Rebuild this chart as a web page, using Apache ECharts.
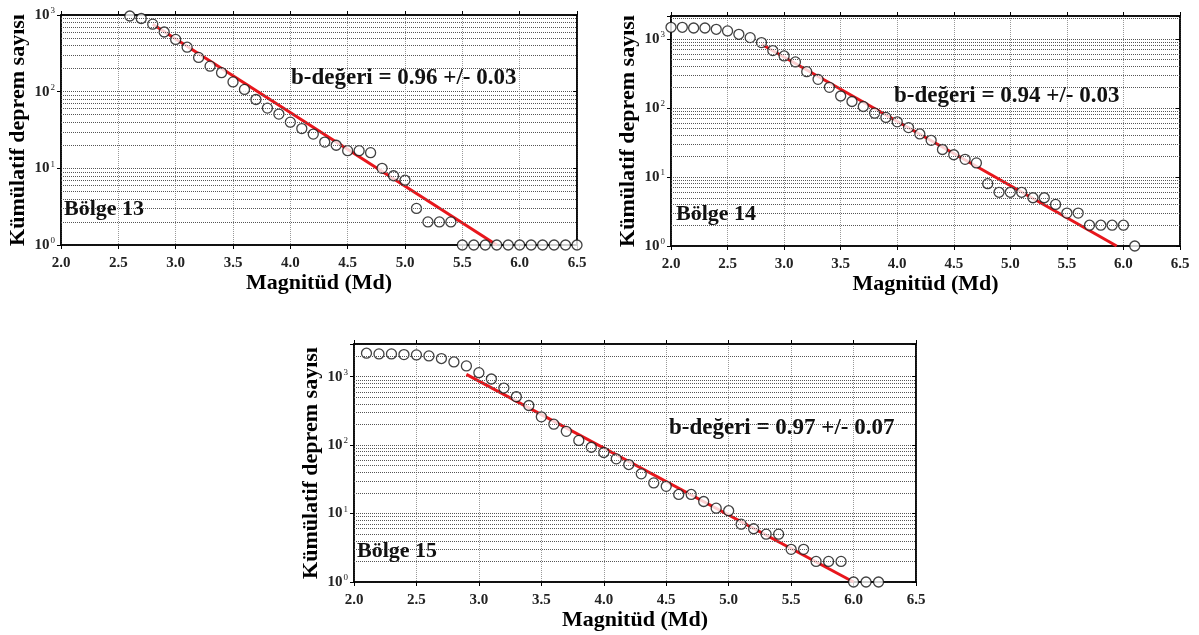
<!DOCTYPE html>
<html lang="tr" style="height: 100%">
  <head>
    <meta charset="utf-8">
    <title>Kümülatif deprem sayısı</title>
  </head>
  <body style="height: 100%; margin: 0; background: #fff">
    <div id="container" style="width: 1199px; height: 635px;"></div>
    <script type="text/javascript" src="https://cdn.jsdelivr.net/npm/echarts@6/dist/echarts.min.js"></script>
    <script type="text/javascript">
      // Bölge 13
      var mag13 = [2.6, 2.7, 2.8, 2.9, 3.0, 3.1, 3.2, 3.3, 3.4, 3.5, 3.6, 3.7, 3.8, 3.9, 4.0, 4.1, 4.2, 4.3, 4.4, 4.5,
                   4.6, 4.7, 4.8, 4.9, 5.0, 5.1, 5.2, 5.3, 5.4, 5.5, 5.6, 5.7, 5.8, 5.9, 6.0, 6.1, 6.2, 6.3, 6.4, 6.5];
      var count13 = [970, 900, 760, 600, 480, 380, 280, 215, 177, 134, 107, 79, 61, 51, 40, 33, 28, 22, 20, 17,
                     17, 16, 10, 8, 7, 3, 2, 2, 2, 1, 1, 1, 1, 1, 1, 1, 1, 1, 1, 1];
      var fitMag13 = [2.8, 5.8];
      var fitCount13 = [759, 1];

      // Bölge 14
      var mag14 = [2.0, 2.1, 2.2, 2.3, 2.4, 2.5, 2.6, 2.7, 2.8, 2.9, 3.0, 3.1, 3.2, 3.3, 3.4, 3.5, 3.6, 3.7, 3.8, 3.9,
                   4.0, 4.1, 4.2, 4.3, 4.4, 4.5, 4.6, 4.7, 4.8, 4.9, 5.0, 5.1, 5.2, 5.3, 5.4, 5.5, 5.6, 5.7, 5.8, 5.9, 6.0, 6.1];
      var count14 = [1475, 1475, 1440, 1440, 1380, 1306, 1168, 1045, 885, 678, 567, 464, 336, 260, 199, 149, 124, 105, 84, 73,
                     63, 52, 42, 34, 25, 21, 18, 16, 8, 6, 6, 6, 5, 5, 4, 3, 3, 2, 2, 2, 2, 1];
      var fitMag14 = [2.8, 5.94];
      var fitCount14 = [838, 1];

      // Bölge 15
      var mag15 = [2.1, 2.2, 2.3, 2.4, 2.5, 2.6, 2.7, 2.8, 2.9, 3.0, 3.1, 3.2, 3.3, 3.4, 3.5, 3.6, 3.7, 3.8, 3.9, 4.0,
                   4.1, 4.2, 4.3, 4.4, 4.5, 4.6, 4.7, 4.8, 4.9, 5.0, 5.1, 5.2, 5.3, 5.4, 5.5, 5.6, 5.7, 5.8, 5.9, 6.0, 6.1, 6.2];
      var count15 = [2200, 2150, 2150, 2100, 2080, 2010, 1840, 1640, 1435, 1145, 925, 682, 509, 379, 259, 202, 159, 117, 93, 78,
                     63, 52, 38, 28, 25, 19, 19, 15, 12, 11, 7, 6, 5, 5, 3, 3, 2, 2, 2, 1, 1, 1];
      var fitMag15 = [2.9, 6.0];
      var fitCount15 = [1080, 1];

      var bLabels = ['b-değeri = 0.96 +/- 0.03', 'b-değeri = 0.94 +/- 0.03', 'b-değeri = 0.97 +/- 0.07'];
      var regionLabels = ['Bölge 13', 'Bölge 14', 'Bölge 15'];
      var yMax = [1000, 2150, 3000];

      // horizontal grid lines at 2..9 x 10^k
      var minorValues = [2, 3, 4, 5, 6, 7, 8, 9, 20, 30, 40, 50, 60, 70, 80, 90,
                         200, 300, 400, 500, 600, 700, 800, 900, 2000, 3000];

      var serif = '"Liberation Serif", "DejaVu Serif", serif';

      var grids = [
        {left: 61, top: 15, width: 516, height: 230},
        {left: 671, top: 16, width: 509, height: 230},
        {left: 354, top: 344, width: 562, height: 238}
      ];
      var textPos = [
        {b: [291, 80], r: [64, 210]},
        {b: [894, 98], r: [676, 215]},
        {b: [669, 430], r: [357, 552]}
      ];

      function pairs(xs, ys) {
        return xs.map(function (x, i) { return [x, ys[i]]; });
      }

      function powLabel(v) {
        var e = Math.log(v) / Math.LN10;
        if (Math.abs(e - Math.round(e)) > 1e-6) return '';
        return '{b|10}{s|' + Math.round(e) + '}';
      }

      var option = {
        backgroundColor: '#fff',
        animation: false,
        grid: [],
        xAxis: [],
        yAxis: [],
        series: [],
        graphic: []
      };

      var panels = [
        {mag: mag13, count: count13, fm: fitMag13, fc: fitCount13},
        {mag: mag14, count: count14, fm: fitMag14, fc: fitCount14},
        {mag: mag15, count: count15, fm: fitMag15, fc: fitCount15}
      ];

      panels.forEach(function (p, i) {
        var g = grids[i];
        option.grid.push({left: g.left, top: g.top, width: g.width, height: g.height,
                          show: true, borderColor: '#000', borderWidth: 1.5, backgroundColor: '#fff'});
        // bottom x axis
        option.xAxis.push({
          type: 'value', gridIndex: i, min: 2.0, max: 6.5, interval: 0.5,
          name: 'Magnitüd (Md)', nameLocation: 'middle', nameGap: 27,
          nameTextStyle: {fontFamily: serif, fontWeight: 'bold', fontSize: 22, color: '#000'},
          axisLine: {lineStyle: {color: '#000', width: 1.5}},
          axisTick: {show: true, length: 4, lineStyle: {color: '#000'}},
          axisLabel: {fontFamily: serif, fontWeight: 'bold', fontSize: 15, color: '#222', margin: 11,
                      formatter: function (v) { return v.toFixed(1); }},
          splitLine: {show: true, lineStyle: {color: '#999', type: 'dotted', width: 1}}
        });
        // top x axis (ticks only)
        option.xAxis.push({
          type: 'value', gridIndex: i, position: 'top', min: 2.0, max: 6.5, interval: 0.5,
          axisLine: {show: true, lineStyle: {color: '#000', width: 1.5}},
          axisTick: {show: true, length: 4, lineStyle: {color: '#000'}},
          axisLabel: {show: false}, splitLine: {show: false}
        });
        // left y axis
        option.yAxis.push({
          type: 'log', logBase: 10, gridIndex: i, min: 1, max: yMax[i], splitNumber: 3,
          name: 'Kümülatif deprem sayısı', nameLocation: 'middle', nameRotate: 90, nameGap: 32,
          nameTextStyle: {fontFamily: serif, fontWeight: 'bold', fontSize: 22, color: '#000'},
          axisLine: {show: true, lineStyle: {color: '#000', width: 1.5}},
          axisTick: {show: true, length: 4, lineStyle: {color: '#000'}},
          axisLabel: {
            margin: 6, formatter: powLabel,
            rich: {
              b: {fontFamily: serif, fontWeight: 'bold', fontSize: 15, color: '#222'},
              s: {fontFamily: serif, fontSize: 9, color: '#222', verticalAlign: 'top', padding: [0, 0, 8, 1]}
            }
          },
          splitLine: {show: true, lineStyle: {color: '#555', type: 'dotted', width: 1}}
        });
        // right y axis (ticks only)
        option.yAxis.push({
          type: 'log', logBase: 10, gridIndex: i, position: 'right', min: 1, max: yMax[i], splitNumber: 3,
          axisLine: {show: true, lineStyle: {color: '#000', width: 1.5}},
          axisTick: {show: true, length: 4, inside: true, lineStyle: {color: '#000'}},
          axisLabel: {show: false}, splitLine: {show: false}
        });

        var xi = i * 2, yi = i * 2;
        // minor horizontal grid lines
        option.series.push({
          type: 'line', xAxisIndex: xi, yAxisIndex: yi, data: [], silent: true,
          markLine: {
            silent: true, symbol: 'none', label: {show: false},
            lineStyle: {color: '#555', type: 'dotted', width: 1},
            data: minorValues.filter(function (v) { return v < yMax[i]; })
                             .map(function (v) { return {yAxis: v}; })
          }
        });
        // fit line
        option.series.push({
          type: 'line', xAxisIndex: xi, yAxisIndex: yi, data: pairs(p.fm, p.fc),
          showSymbol: false, symbol: 'none', z: 3,
          lineStyle: {color: '#e8161c', width: 3}
        });
        // observed points
        option.series.push({
          type: 'scatter', xAxisIndex: xi, yAxisIndex: yi, data: pairs(p.mag, p.count),
          symbol: 'circle', symbolSize: 10, z: 4,
          itemStyle: {color: '#fff', borderColor: '#111', borderWidth: 1.3}
        });

        var t = textPos[i];
        option.graphic.push({
          type: 'text', left: t.b[0], top: t.b[1] - 13, z: 10,
          style: {text: bLabels[i], fontFamily: serif, fontWeight: 'bold', fontSize: 23, fill: '#111'}
        });
        option.graphic.push({
          type: 'text', left: t.r[0], top: t.r[1] - 12, z: 10,
          style: {text: regionLabels[i], fontFamily: serif, fontWeight: 'bold', fontSize: 22, fill: '#111'}
        });
      });

      var myChart = echarts.init(document.getElementById('container'), null, {renderer: 'canvas'});
      myChart.setOption(option);
    </script>
  </body>
</html>
